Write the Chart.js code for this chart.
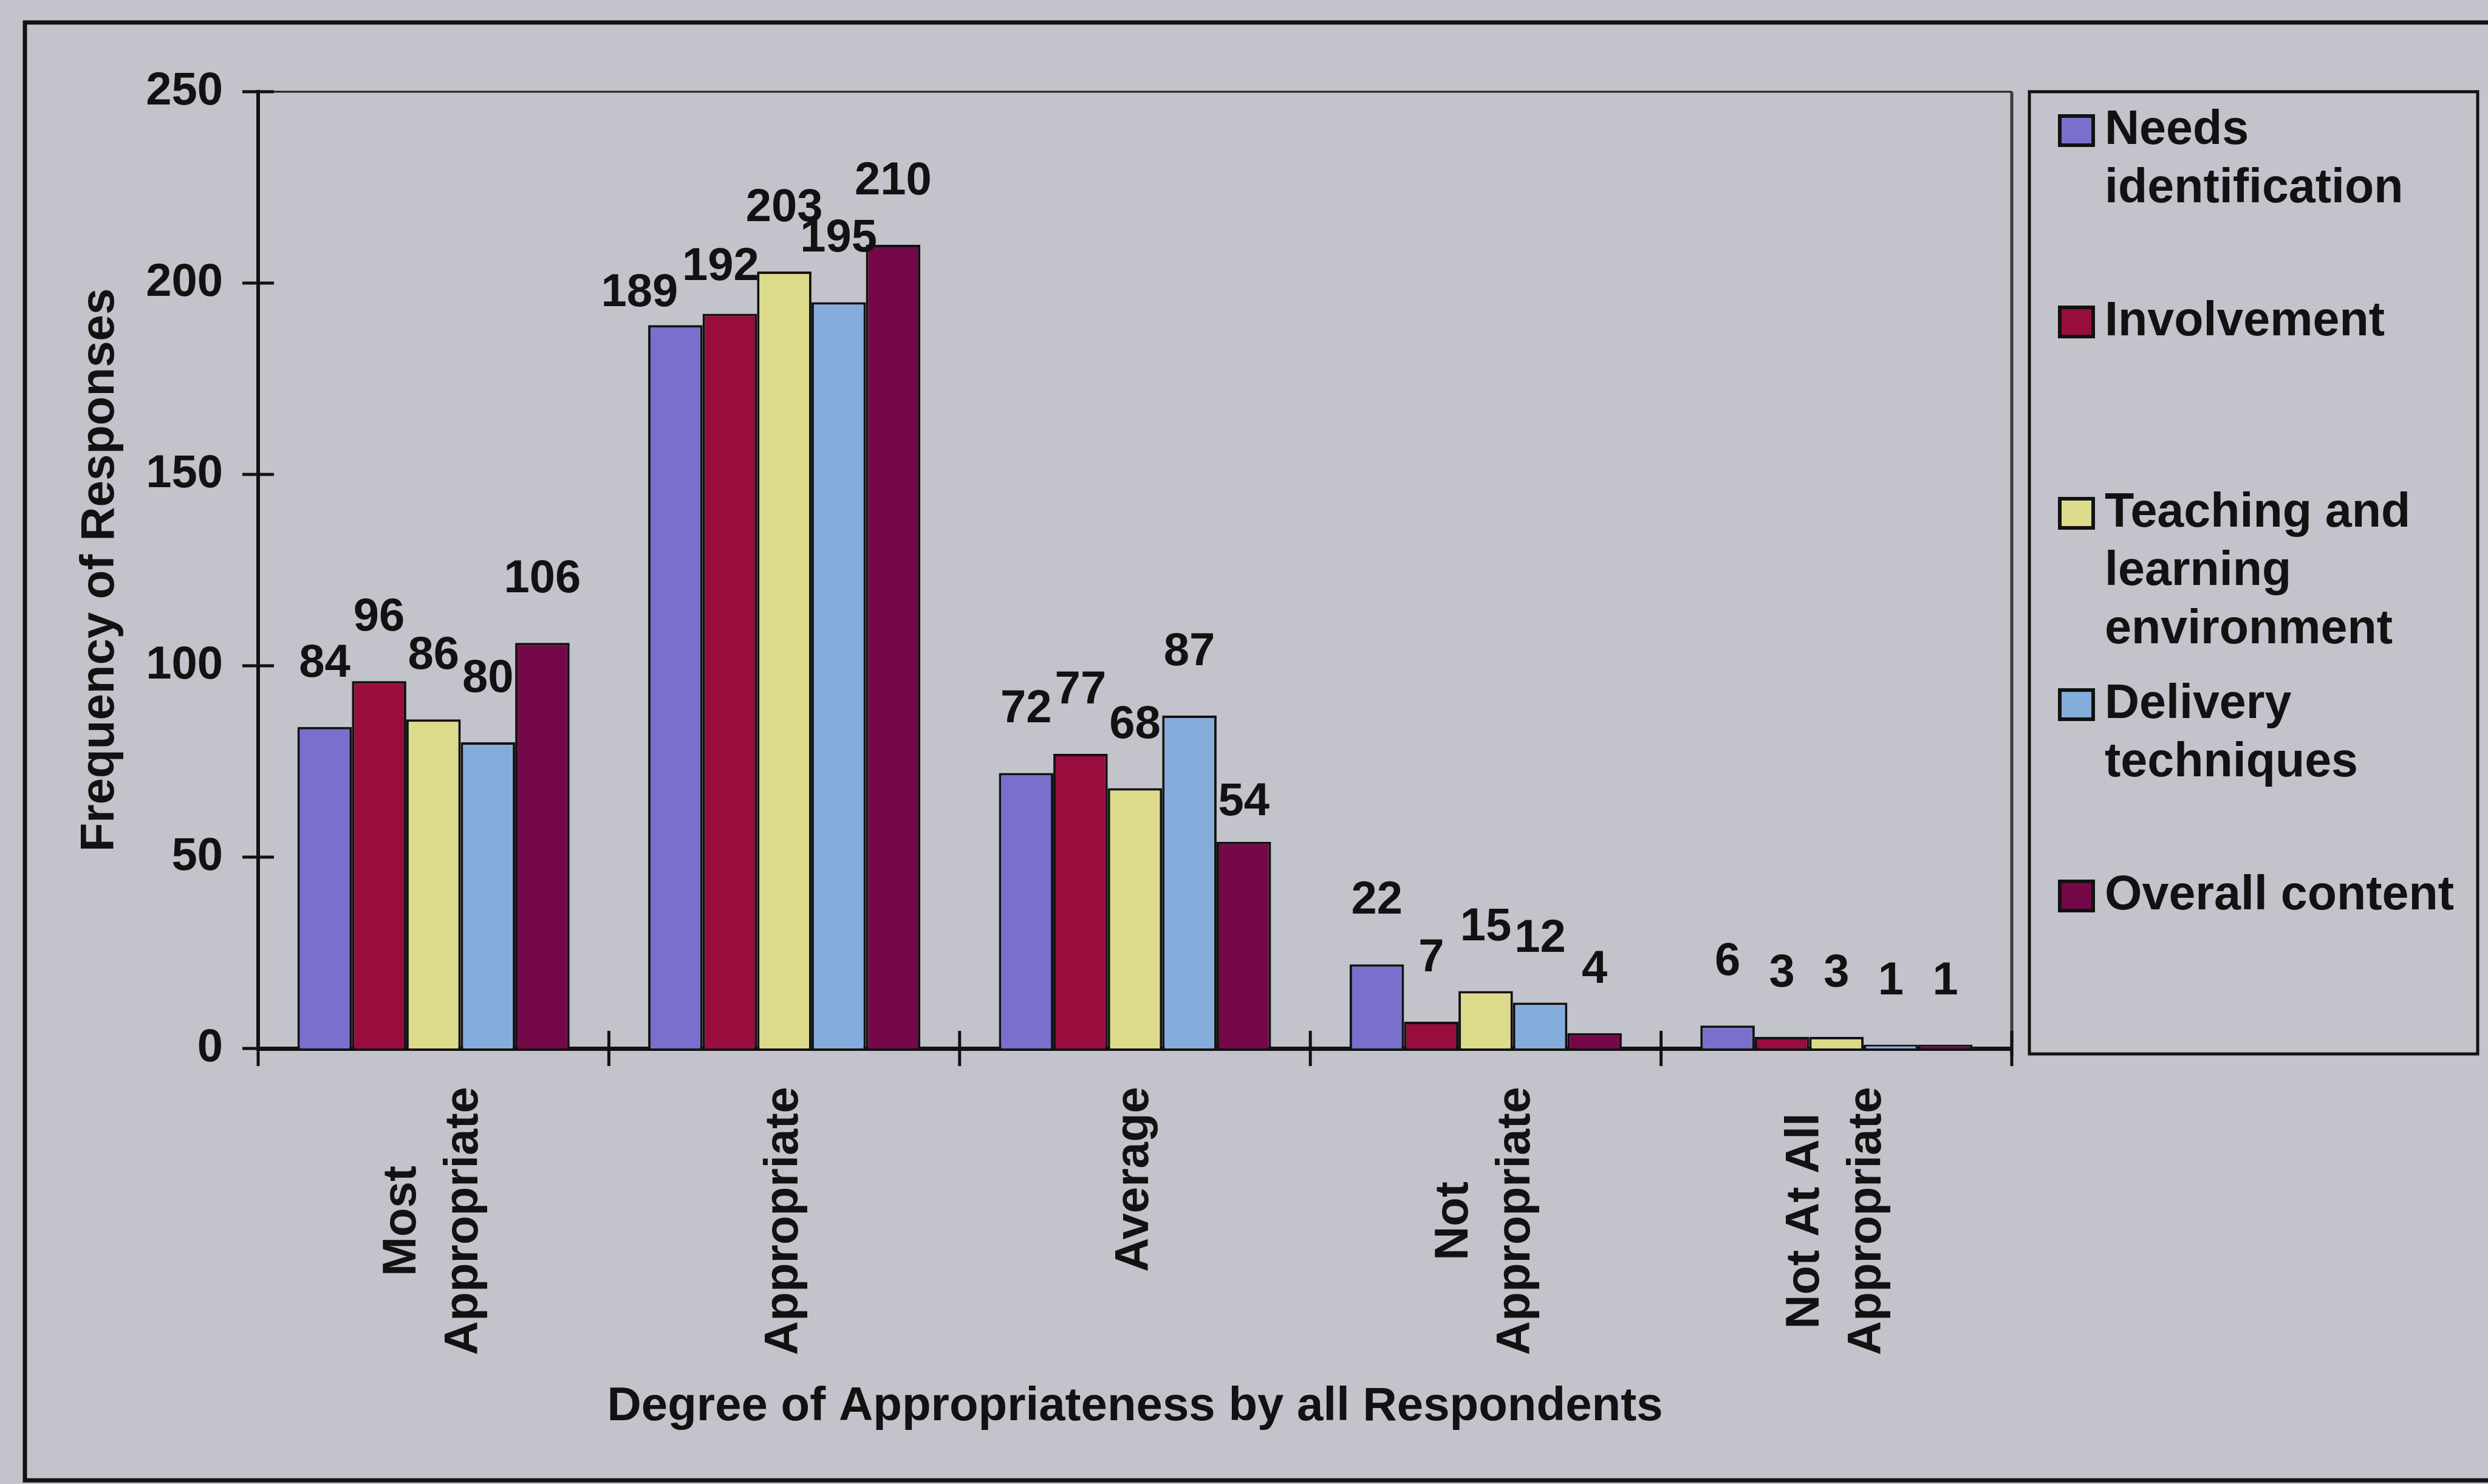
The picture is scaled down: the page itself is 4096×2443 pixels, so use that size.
<!DOCTYPE html>
<html>
<head>
<meta charset="utf-8">
<title>Degree of Appropriateness by all Respondents</title>
<script src="https://cdn.jsdelivr.net/npm/chart.js@4.4.1/dist/chart.umd.min.js"></script>
<style>
  html, body { margin: 0; padding: 0; background: #c3c3cb; overflow: hidden; }
  #chartBox { width: 4096px; height: 2443px; }
</style>
</head>
<body>
<div id="chartBox"><canvas id="appropChart" width="4096" height="2443"></canvas></div>
<script>
// categories on the x axis (each entry = lines of the rotated label)
var categories = [['Most', 'Appropriate'], ['Appropriate'], ['Average'], ['Not', 'Appropriate'], ['Not At All', 'Appropriate']];

// legend text, already broken into lines
var seriesNames = [['Needs', 'identification'], ['Involvement'], ['Teaching and', 'learning', 'environment'], ['Delivery', 'techniques'], ['Overall content']];

// frequency of responses per category
var needsIdent     = [84, 189, 72, 22, 6];
var involvement    = [96, 192, 77, 7, 3];
var teachingEnv    = [86, 203, 68, 15, 3];
var deliveryTech   = [80, 195, 87, 12, 1];
var overallContent = [106, 210, 54, 4, 1];

var yTicks = [0, 50, 100, 150, 200, 250];

var seriesColors = ['#7870cc', '#980c3e', '#dcdb8c', '#85addc', '#740848'];

// layout (px)
var W = 4096, H = 2443;
var plot = { left: 425, top: 151, right: 3312, bottom: 1726 };
var legendBox = { left: 3341, top: 151, right: 4079, bottom: 1735, first: 215, pitch: 315, line: 96,
                  swatchX: 3391, swatchW: 55, swatchH: 48, textX: 3465 };
var FONT = '"Liberation Sans", Arial, Helvetica, sans-serif';
var INK = '#121212';

// a few value labels were dragged off their default spot: [dx, dy]
var labelNudge = { '0,1': [-59, 52], '1,1': [-15, 28], '4,2': [0, 39] };

function line(ctx, x1, y1, x2, y2, w, col) {
    ctx.beginPath();
    ctx.lineWidth = w;
    ctx.strokeStyle = col || INK;
    ctx.moveTo(x1, y1);
    ctx.lineTo(x2, y2);
    ctx.stroke();
}

var decorPlugin = {
    id: 'decor',
    beforeDraw: function(chart) {
        var ctx = chart.ctx;
        ctx.save();
        ctx.fillStyle = '#c3c3cb';
        ctx.fillRect(0, 0, W, H);
        // outer frame, right side runs off the page
        ctx.lineWidth = 7;
        ctx.strokeStyle = INK;
        ctx.strokeRect(41, 37, W + 100, 2400);
        ctx.restore();
    },
    afterDatasetsDraw: function(chart) {
        var ctx = chart.ctx;
        ctx.save();
        ctx.font = 'bold 76px ' + FONT;
        ctx.fillStyle = INK;
        ctx.textAlign = 'center';
        ctx.textBaseline = 'middle';
        chart.data.datasets.forEach(function(ds, si) {
            chart.getDatasetMeta(si).data.forEach(function(bar, ci) {
                var n = labelNudge[si + ',' + ci] || [0, 0];
                ctx.fillText(String(ds.data[ci]), bar.x + n[0], bar.y - 104 + n[1]);
            });
        });
        ctx.restore();
    },
    afterDraw: function(chart) {
        var ctx = chart.ctx;
        var area = chart.chartArea;
        var xs = chart.scales.x, ys = chart.scales.y;
        ctx.save();

        // thin box on top and right of the plot
        line(ctx, area.left, area.top, area.right, area.top, 3, '#222');
        line(ctx, area.right, area.top, area.right, area.bottom + 12, 5, '#3a3a3a');

        // tick marks crossing the axes
        ys.ticks.forEach(function(t) {
            var py = ys.getPixelForValue(t.value);
            line(ctx, area.left - 26, py, area.left + 26, py, 5);
        });
        var half = (xs.getPixelForValue(1) - xs.getPixelForValue(0)) / 2;
        for (var i = 0; i <= categories.length; i++) {
            var px = xs.getPixelForValue(0) - half + i * half * 2;
            line(ctx, px, area.bottom - 29, px, area.bottom + 29, 5);
        }

        // rotated category labels, lines centred on each other
        ctx.fillStyle = INK;
        ctx.font = 'bold 78px ' + FONT;
        ctx.textAlign = 'center';
        ctx.textBaseline = 'middle';
        categories.forEach(function(lines, ci) {
            var cx = xs.getPixelForValue(ci);
            var maxW = 0;
            lines.forEach(function(l) { maxW = Math.max(maxW, ctx.measureText(l).width); });
            var cy = area.bottom + 63 + maxW / 2;
            lines.forEach(function(l, li) {
                ctx.save();
                ctx.translate(cx + (li - (lines.length - 1) / 2) * 102, cy);
                ctx.rotate(-Math.PI / 2);
                ctx.fillText(l, 0, 0);
                ctx.restore();
            });
        });

        // axis titles
        ctx.fillText('Degree of Appropriateness by all Respondents', (area.left + area.right) / 2, 2316);
        ctx.save();
        ctx.translate(165, (area.top + area.bottom) / 2);
        ctx.rotate(-Math.PI / 2);
        ctx.fillText('Frequency of Responses', 0, 0);
        ctx.restore();

        // legend
        var lg = legendBox;
        ctx.lineWidth = 5;
        ctx.strokeStyle = INK;
        ctx.strokeRect(lg.left, lg.top, lg.right - lg.left, lg.bottom - lg.top);
        ctx.font = 'bold 79px ' + FONT;
        ctx.textAlign = 'left';
        seriesNames.forEach(function(lines, si) {
            var y0 = lg.first + si * lg.pitch;
            ctx.fillStyle = seriesColors[si];
            ctx.fillRect(lg.swatchX, y0 - lg.swatchH / 2, lg.swatchW, lg.swatchH);
            ctx.lineWidth = 6;
            ctx.strokeRect(lg.swatchX, y0 - lg.swatchH / 2, lg.swatchW, lg.swatchH);
            ctx.fillStyle = INK;
            lines.forEach(function(l, li) {
                ctx.fillText(l, lg.textX, y0 + li * lg.line);
            });
        });
        ctx.restore();
    }
};

document.addEventListener('DOMContentLoaded', function() {
    var seriesData = [needsIdent, involvement, teachingEnv, deliveryTech, overallContent];

    var datasets = seriesData.map(function(vals, i) {
        return {
            label: seriesNames[i].join(' '),
            data: vals,
            backgroundColor: seriesColors[i],
            borderColor: INK,
            borderWidth: 4,
            categoryPercentage: 0.776,
            barPercentage: 1.0
        };
    });

    new Chart(document.getElementById('appropChart'), {
        type: 'bar',
        data: {
            labels: categories.map(function(l) { return l.join(' '); }),
            datasets: datasets
        },
        options: {
            responsive: false,
            animation: false,
            events: [],
            layout: { padding: { left: 0, top: plot.top, right: W - plot.right, bottom: 0 } },
            plugins: {
                legend: { display: false },
                tooltip: { enabled: false }
            },
            scales: {
                x: {
                    z: 1,
                    grid: { display: false, drawTicks: false },
                    border: { display: true, width: 7, color: INK },
                    ticks: { display: false },
                    afterFit: function(s) { s.height = H - plot.bottom; }
                },
                y: {
                    min: 0,
                    max: 250,
                    grid: { display: false, drawTicks: false },
                    border: { display: true, width: 6, color: INK },
                    afterBuildTicks: function(s) {
                        s.ticks = yTicks.map(function(v) { return { value: v }; });
                    },
                    ticks: {
                        padding: 58,
                        color: INK,
                        font: { family: FONT, size: 76, weight: 'bold' }
                    },
                    afterFit: function(s) { s.width = plot.left; }
                }
            }
        },
        plugins: [decorPlugin]
    });
});
</script>
</body>
</html>
